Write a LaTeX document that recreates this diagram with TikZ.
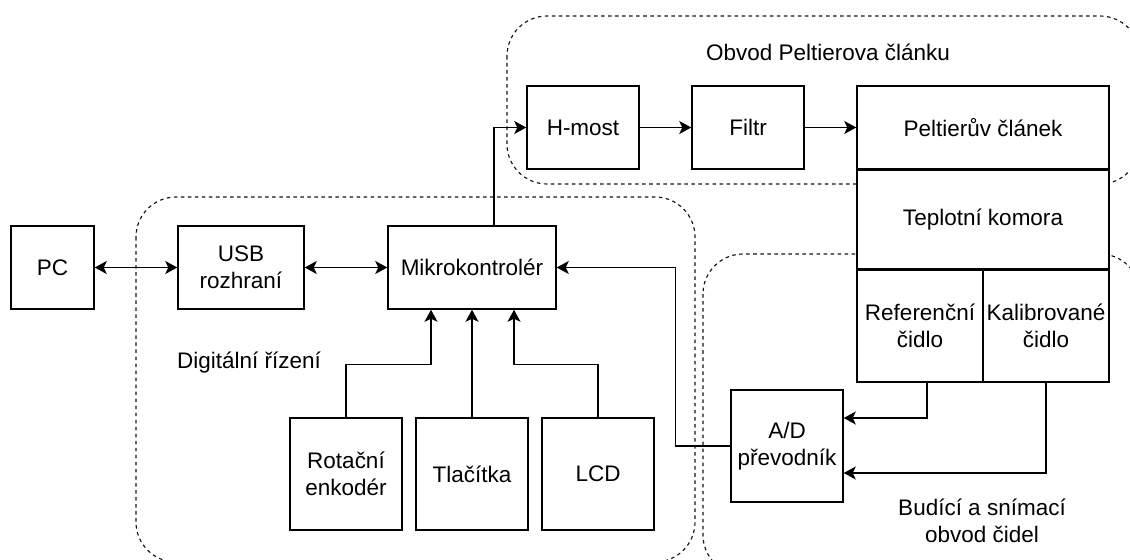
\documentclass[tikz,border=0pt]{standalone}
\usepackage{fontspec}
\setmainfont{Liberation Sans}
\usepackage{xcolor}
\usepackage{tikz}
\usetikzlibrary{arrows.meta, positioning, calc}
\definecolor{linecol}{RGB}{0,0,0}
\definecolor{grpcol}{RGB}{20,20,20}
\tikzset{
  blk/.style={rectangle, draw=linecol, line width=0.85pt, fill=white, align=center,
              font=\fontsize{12.8}{15.4}\selectfont, inner sep=0pt},
  arr/.style={-{Stealth[length=2.4mm, width=2.6mm, inset=0.6mm]}, line width=0.85pt, draw=linecol},
  biarr/.style={{Stealth[length=2.4mm, width=2.6mm, inset=0.6mm]}-{Stealth[length=2.4mm, width=2.6mm, inset=0.6mm]},
                line width=0.85pt, draw=linecol},
  grp/.style={draw=grpcol, line width=0.65pt, dash pattern=on 2pt off 2pt, rounded corners=0.8cm},
  grplabel/.style={font=\fontsize{12.8}{15.4}\selectfont, align=center},
}

\begin{document}
\begin{tikzpicture}
\useasboundingbox (0,0) rectangle (22.6,-11.2);
% Skupiny (čárkované oblasti)
\draw[grp] (10.14,-0.32) rectangle (22.8,-3.68);
\draw[grp] (2.72,-3.94) rectangle (13.9,-11.24);
\draw[grp] (14.06,-5.08) rectangle (22.8,-11.5);
\node[grplabel] (lpelt) at (16.56,-1.04) {Obvod Peltierova článku};
\node[grplabel, anchor=west] (ldig) at (3.42,-7.26) {Digitální řízení};
\node[grplabel] (lsen) at (19.64,-10.42) {Budící a snímací\\obvod čidel};

% Digitální část
\node[blk, minimum width=1.66cm, minimum height=1.66cm] (pc)  at (1.05,-5.35) {PC};
\node[blk, minimum width=2.52cm, minimum height=1.66cm] (usb) at (4.82,-5.35) {USB\\rozhraní};
\node[blk, minimum width=3.36cm, minimum height=1.66cm] (mcu) at (9.44,-5.35) {Mikrokontrolér};
\node[blk, minimum width=2.24cm, minimum height=2.24cm] (enc) at (6.92,-9.48) {Rotační\\enkodér};
\node[blk, minimum width=2.24cm, minimum height=2.24cm] (btn) at (9.44,-9.48) {Tlačítka};
\node[blk, minimum width=2.24cm, minimum height=2.24cm] (lcd) at (11.96,-9.48) {LCD};

% Obvod Peltierova článku a komora
\node[blk, minimum width=2.24cm, minimum height=1.66cm] (hbr)  at (11.66,-2.55) {H-most};
\node[blk, minimum width=2.24cm, minimum height=1.66cm] (flt)  at (14.96,-2.55) {Filtr};
\node[blk, minimum width=5.04cm, minimum height=1.66cm] (pelt) at (19.66,-2.55) {Peltierův článek};
\node[blk, minimum width=5.04cm, minimum height=1.96cm, below=0pt of pelt] (cham) {Teplotní komora};
\node[blk, minimum width=2.52cm, minimum height=2.24cm, anchor=north west] (refs) at (cham.south west) {Referenční\\čidlo};
\node[blk, minimum width=2.52cm, minimum height=2.24cm, anchor=north east] (cals) at (cham.south east) {Kalibrované\\čidlo};
\node[blk, minimum width=2.24cm, minimum height=2.24cm] (adc) at (15.74,-8.92) {A/D\\převodník};

% Spoje
\draw[biarr] (pc) -- (usb);
\draw[biarr] (usb) -- (mcu);
\draw[arr] ([xshift=0.44cm]mcu.north) |- (hbr.west);
\draw[arr] (hbr) -- (flt);
\draw[arr] (flt) -- (pelt);
\draw[arr] (enc.north) -- ++(0,1.06) -| ([xshift=-0.82cm]mcu.south);
\draw[arr] (btn.north) -- (mcu.south);
\draw[arr] (lcd.north) -- ++(0,1.06) -| ([xshift=0.84cm]mcu.south);
\draw[arr] (adc.west) -- ++(-1.1,0) |- (mcu.east);
\draw[arr] ([xshift=0.14cm]refs.south) |- ([yshift=0.56cm]adc.east);
\draw[arr] (cals.south) |- ([yshift=-0.54cm]adc.east);

\end{tikzpicture}
\end{document}
